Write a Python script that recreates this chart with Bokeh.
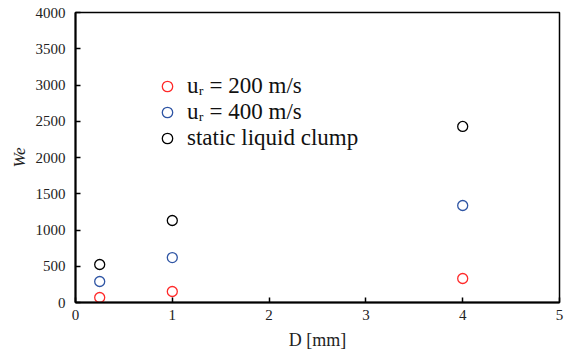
from bokeh.plotting import figure
from bokeh.models import Range1d, FixedTicker, Legend, LegendItem
from bokeh.embed import file_html
from bokeh.resources import INLINE

# Data
D = [0.25, 1.0, 4.0]
we_200 = [69, 152, 331]
we_400 = [290, 620, 1338]
we_static = [524, 1131, 2428]
labels = ["u\u1d63 = 200 m/s", "u\u1d63 = 400 m/s", "static liquid clump"]
colors = ["#FF2A2A", "#2F55A4", "#000000"]
x_ticks = [0, 1, 2, 3, 4, 5]
y_ticks = [0, 500, 1000, 1500, 2000, 2500, 3000, 3500, 4000]

FONT = "'Liberation Serif', 'Times New Roman', serif"

p = figure(width=567, height=360, output_backend="svg", toolbar_location=None,
           x_range=Range1d(0, 5), y_range=Range1d(0, 4000),
           min_border_left=75, min_border_right=8, min_border_top=12, min_border_bottom=58)
p.background_fill_color = "white"
p.border_fill_color = "white"
p.outline_line_color = "black"
p.outline_line_width = 1.5
p.xgrid.visible = False
p.ygrid.visible = False

for ax, ticks in ((p.xaxis, x_ticks), (p.yaxis, y_ticks)):
    ax.ticker = FixedTicker(ticks=ticks)
    ax.major_tick_in = 5
    ax.major_tick_out = 0
    ax.minor_tick_in = 0
    ax.minor_tick_out = 0
    ax.axis_line_color = "black"
    ax.axis_line_width = 2
    ax.major_tick_line_color = "black"
    ax.major_tick_line_width = 1.5
    ax.major_label_text_font = FONT
    ax.major_label_text_font_size = "15px"
    ax.major_label_text_color = "#222222"
    ax.axis_label_text_font = FONT
    ax.axis_label_text_color = "#222222"

p.xaxis.major_label_standoff = 7
p.yaxis.major_label_standoff = 10
p.xaxis.axis_label = "D [mm]"
p.xaxis.axis_label_text_font_style = "normal"
p.xaxis.axis_label_text_font_size = "18px"
p.xaxis.axis_label_standoff = 7
p.yaxis.axis_label = "We"
p.yaxis.axis_label_text_font_style = "italic"
p.yaxis.axis_label_text_font_size = "17px"
p.yaxis.axis_label_standoff = 4

renderers = []
for ys, c in zip([we_200, we_400, we_static], colors):
    r = p.scatter(D, ys, marker="circle", size=10, fill_color=None,
                  line_color=c, line_width=1.3)
    renderers.append(r)

legend = Legend(items=[LegendItem(label=l, renderers=[r]) for l, r in zip(labels, renderers)],
                location=(79, 151))
legend.glyph_width = 26
legend.glyph_height = 26
legend.label_height = 26
legend.spacing = 0
legend.label_standoff = 7
legend.label_text_font = FONT
legend.label_text_font_size = "23px"
legend.label_text_color = "#111111"
legend.border_line_alpha = 0
legend.background_fill_alpha = 0
legend.padding = 0
legend.margin = 0
p.add_layout(legend, "center")

open("out.html", "w").write(file_html(p, INLINE))
